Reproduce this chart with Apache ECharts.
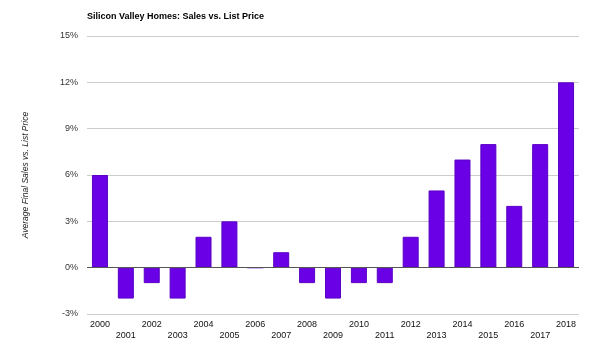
<!DOCTYPE html>
<html>
<head>
<meta charset="utf-8">
<script src="https://cdn.jsdelivr.net/npm/echarts@6/dist/echarts.min.js"></script>
<style>html,body{margin:0;padding:0;background:#fff}#c{width:600px;height:358px}</style>
</head>
<body>
<div id="c"></div>
<script>
var titleText = 'Silicon Valley Homes: Sales vs. List Price';
var yAxisName = 'Average Final Sales vs. List Price';
var years = ['2000','2001','2002','2003','2004','2005','2006','2007','2008','2009','2010','2011','2012','2013','2014','2015','2016','2017','2018'];
var values = [6,-2,-1,-2,2,3,0,1,-1,-2,-1,-1,2,5,7,8,4,8,12];
var yTicks = {min: -3, max: 15, interval: 3};

var chart = echarts.init(document.getElementById('c'), null, {renderer: 'canvas'});
var font = 'Arial, "Liberation Sans", sans-serif';
chart.setOption({
  animation: false,
  backgroundColor: '#ffffff',
  title: {
    text: titleText, left: 87, top: 12, padding: 0,
    textStyle: {fontFamily: font, fontSize: 9, fontWeight: 'bold', color: '#000'}
  },
  grid: {left: 87, right: 21, top: 36, bottom: 44},
  xAxis: {
    type: 'category', data: years,
    axisLine: {show: false, onZero: false},
    axisTick: {show: false},
    axisLabel: {
      interval: 0, margin: 6,
      fontFamily: font, fontSize: 9, color: '#111',
      formatter: function (v, i) { return i % 2 ? '{b|' + v + '}' : '{a|' + v + '}'; },
      rich: {
        a: {fontFamily: font, fontSize: 9, color: '#111'},
        b: {fontFamily: font, fontSize: 9, color: '#111', padding: [11, 0, 0, 0]}
      }
    }
  },
  yAxis: {
    type: 'value', min: yTicks.min, max: yTicks.max, interval: yTicks.interval,
    name: yAxisName, nameLocation: 'middle', nameGap: 57,
    nameTextStyle: {fontFamily: font, fontSize: 8.5, fontStyle: 'italic', color: '#222'},
    axisLine: {show: false}, axisTick: {show: false},
    axisLabel: {formatter: '{value}%', margin: 9, fontFamily: font, fontSize: 9, color: '#333'},
    splitLine: {lineStyle: {color: '#cccccc', width: 1}}
  },
  series: [{
    type: 'bar', data: values, barWidth: 16,
    itemStyle: {color: '#6a00e6', borderColor: '#5a00c4', borderWidth: 1},
    markLine: {
      silent: true, symbol: 'none', label: {show: false},
      lineStyle: {color: '#555', width: 1, type: 'solid'},
      data: [{yAxis: 0}]
    }
  }]
});
</script>
</body>
</html>
